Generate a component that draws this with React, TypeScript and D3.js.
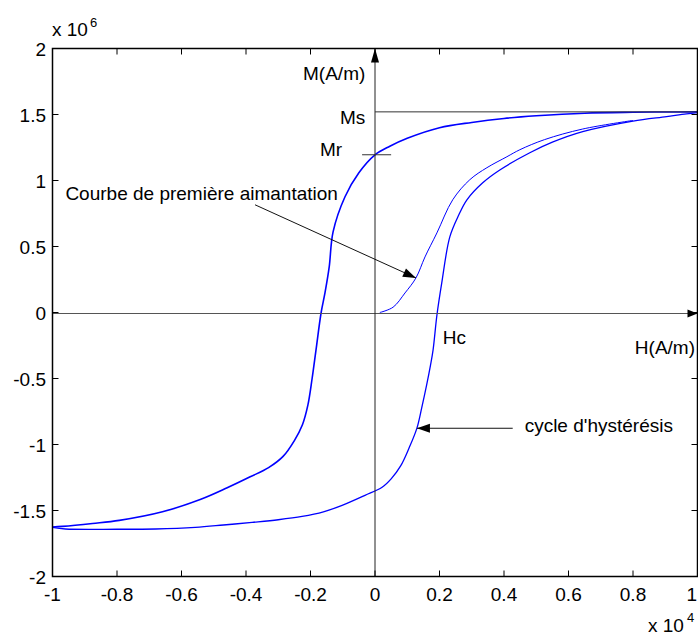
import { useEffect, useRef } from "react";
import * as d3 from "d3";

// ---- data (H in 1e4 A/m, M in 1e6 A/m) ----
// descending branch of the loop (from +saturation to -saturation)
const descH = [1, 0.9, 0.8, 0.65, 0.5, 0.4, 0.3, 0.2, 0.1, 0.046, 0, -0.05, -0.093, -0.13, -0.142, -0.155, -0.167, -0.183, -0.195, -0.208, -0.225, -0.25, -0.285, -0.33, -0.387, -0.46, -0.54, -0.659, -0.793, -0.876, -0.969, -1];
const descM = [1.52, 1.519, 1.517, 1.51, 1.49, 1.47, 1.44, 1.4, 1.32, 1.26, 1.195, 1.059, 0.877, 0.611, 0.345, 0.15, 0.0, -0.285, -0.5, -0.7, -0.85, -0.97, -1.09, -1.175, -1.245, -1.33, -1.415, -1.51, -1.575, -1.598, -1.62, -1.625];

// ascending branch of the loop
const ascH = [-1, -0.96, -0.8, -0.68, -0.557, -0.47, -0.381, -0.3, -0.226, -0.16, -0.102, -0.031, 0.022, 0.05, 0.08, 0.105, 0.13, 0.145, 0.16, 0.172, 0.18, 0.192, 0.207, 0.232, 0.26, 0.285, 0.334, 0.387, 0.48, 0.55, 0.644, 0.8, 0.904, 0.966, 1];
const ascM = [-1.628, -1.64, -1.642, -1.64, -1.628, -1.61, -1.59, -1.57, -1.545, -1.51, -1.461, -1.385, -1.324, -1.26, -1.16, -1.03, -0.876, -0.72, -0.55, -0.4, -0.285, -0.02, 0.224, 0.573, 0.74, 0.854, 0.983, 1.08, 1.21, 1.29, 1.37, 1.45, 1.484, 1.505, 1.514];

// first magnetization curve
const firstH = [0.015, 0.056, 0.093, 0.127, 0.155, 0.192, 0.241, 0.294, 0.347, 0.409, 0.449, 0.526, 0.644, 0.8];
const firstM = [0, 0.04, 0.148, 0.262, 0.421, 0.603, 0.854, 1.006, 1.097, 1.18, 1.233, 1.31, 1.39, 1.455];

const xTicks = [-1, -0.8, -0.6, -0.4, -0.2, 0, 0.2, 0.4, 0.6, 0.8, 1];
const yTicks = [-2, -1.5, -1, -0.5, 0, 0.5, 1, 1.5, 2];

const Ms = 1.52;
const Mr = 1.195;

const App = () => {
  const svgRef = useRef<SVGSVGElement | null>(null);

  useEffect(() => {
    const width = 698;
    const height = 638;
    const font = "'Liberation Sans', Arial, sans-serif";

    const svg = d3.select(svgRef.current);
    svg.selectAll("*").remove();

    const x = d3.scaleLinear().domain([-1, 1]).range([52.5, 697.5]);
    const y = d3.scaleLinear().domain([-2, 2]).range([576.5, 48.5]);

    svg.append("rect").attr("width", width).attr("height", height).attr("fill", "#fff");

    // curves
    const line = d3
      .line<[number, number]>()
      .x((d) => x(d[0]))
      .y((d) => y(d[1]))
      .curve(d3.curveCatmullRom.alpha(0.5));

    const zip = (hs: number[], ms: number[]) => hs.map((h, i) => [h, ms[i]] as [number, number]);

    svg.append("path").attr("d", line(zip(descH, descM))).attr("fill", "none").attr("stroke", "#0000ff").attr("stroke-width", 1.6);
    svg.append("path").attr("d", line(zip(ascH, ascM))).attr("fill", "none").attr("stroke", "#0000ff").attr("stroke-width", 1.3);
    svg.append("path").attr("d", line(zip(firstH, firstM))).attr("fill", "none").attr("stroke", "#0000ff").attr("stroke-width", 1);

    // arrows (line + filled head)
    const arrow = (x1: number, y1: number, x2: number, y2: number, color: string, len = 13, half = 4.5) => {
      svg.append("line").attr("x1", x1).attr("y1", y1).attr("x2", x2).attr("y2", y2).attr("stroke", color).attr("stroke-width", 1);
      const a = Math.atan2(y2 - y1, x2 - x1);
      const bx = x2 - len * Math.cos(a);
      const by = y2 - len * Math.sin(a);
      const px = -Math.sin(a) * half;
      const py = Math.cos(a) * half;
      svg
        .append("polygon")
        .attr("points", `${x2},${y2} ${bx + px},${by + py} ${bx - px},${by - py}`)
        .attr("fill", "#000");
    };

    // H and M axes through origin
    arrow(x(-1), y(0) + 1, x(1), y(0) + 1, "#555", 10, 4);
    arrow(x(0), y(-2), x(0), y(2), "#222", 14, 4);

    // Ms and Mr markers
    svg.append("line").attr("x1", x(0)).attr("x2", x(1)).attr("y1", y(Ms)).attr("y2", y(Ms)).attr("stroke", "#333").attr("stroke-width", 1);
    svg.append("line").attr("x1", x(-0.04)).attr("x2", x(0.05)).attr("y1", y(Mr)).attr("y2", y(Mr)).attr("stroke", "#333").attr("stroke-width", 1);

    // annotation arrows
    arrow(x(-0.372), y(0.816), x(0.127), y(0.262), "#111");
    arrow(x(0.427), y(-0.877), x(0.13), y(-0.877), "#111");

    const text = (t: string, tx: number, ty: number, anchor = "start", size = 19) =>
      svg
        .append("text")
        .attr("x", tx)
        .attr("y", ty)
        .attr("text-anchor", anchor)
        .attr("font-family", font)
        .attr("font-size", size)
        .attr("fill", "#000")
        .text(t);

    text("M(A/m)", x(-0.03), 80, "end");
    text("Ms", x(-0.03), 124, "end");
    text("Mr", x(-0.102), 156, "end");
    text("Courbe de première aimantation", x(-0.96), 200);
    text("Hc", x(0.21), 344);
    text("H(A/m)", 695, 354, "end");
    text("cycle d'hystérésis", x(0.464), 432);

    // frame
    const [x0, x1] = x.range();
    const [y0, y1] = y.range();
    svg
      .append("rect")
      .attr("x", x0)
      .attr("y", y1)
      .attr("width", x1 - x0)
      .attr("height", y0 - y1)
      .attr("fill", "none")
      .attr("stroke", "#000")
      .attr("stroke-width", 1.5);

    // ticks
    const tk = 6;
    xTicks.forEach((v, i) => {
      svg.append("line").attr("x1", x(v)).attr("x2", x(v)).attr("y1", y0).attr("y2", y0 - tk).attr("stroke", "#000");
      svg.append("line").attr("x1", x(v)).attr("x2", x(v)).attr("y1", y1).attr("y2", y1 + tk).attr("stroke", "#000");
      const last = i === xTicks.length - 1;
      text(String(v), last ? 697 : x(v), 601, last ? "end" : "middle");
    });
    yTicks.forEach((v) => {
      svg.append("line").attr("x1", x0).attr("x2", x0 + tk).attr("y1", y(v)).attr("y2", y(v)).attr("stroke", "#000");
      svg.append("line").attr("x1", x1).attr("x2", x1 - tk).attr("y1", y(v)).attr("y2", y(v)).attr("stroke", "#000");
      text(String(v), 46, y(v) + 7, "end");
    });

    // exponent labels
    text("x 10", 52, 36);
    text("6", 90, 27, "start", 13);
    text("x 10", 648, 632);
    text("4", 687, 622, "start", 13);
  }, []);

  return (
    <div style={{ position: "absolute", left: 0, top: 0 }}>
      <svg ref={svgRef} width={698} height={638} style={{ display: "block" }} />
    </div>
  );
};

export default App;
